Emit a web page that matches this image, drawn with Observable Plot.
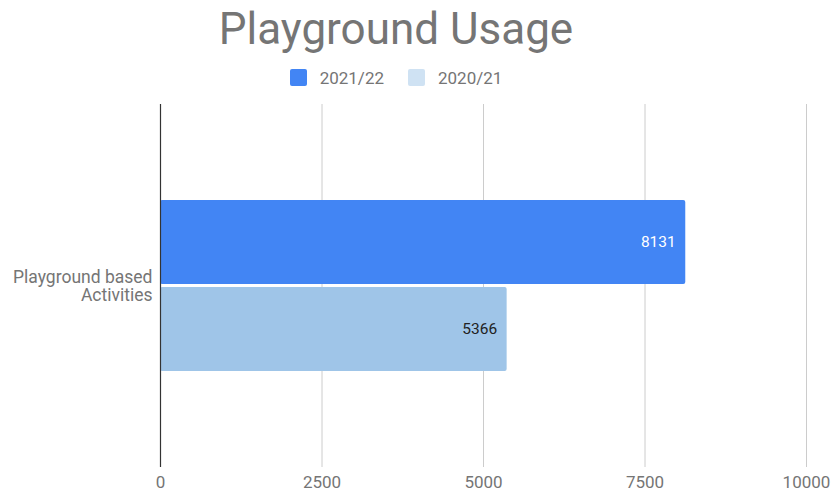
<!DOCTYPE html>
<html>
<head>
<meta charset="utf-8">
<script src="https://cdn.jsdelivr.net/npm/d3@7"></script>
<script src="https://cdn.jsdelivr.net/npm/@observablehq/plot@0.6"></script>
<style>
  html, body { margin: 0; padding: 0; background: #fff; }
  body { width: 834px; height: 495px; overflow: hidden; font-family: Roboto, sans-serif; }
  #title { height: 60px; text-align: center; font-size: 44px; color: #757575; line-height: 58px; padding-right: 42px; }
  #legend { height: 35px; display: flex; justify-content: center; align-items: center; font-size: 17px; color: #757575; padding-right: 42px; }
  .item { display: flex; align-items: center; margin: 0 12px; }
  .sw { width: 17px; height: 17px; border-radius: 2px; margin-right: 13px; }
</style>
</head>
<body>
<div id="title">Playground Usage</div>
<div id="legend"></div>
<div id="chart"></div>
<script>
const categories = ["Playground based Activities"];
const series = ["2021/22", "2020/21"];
const values2122 = [8131];
const values2021 = [5366];
const xTicks = [0, 2500, 5000, 7500, 10000];
const barColors = ["#4285f4", "#9fc5e8"];
const legendColors = ["#4285f4", "#cfe2f3"];
const labelColors = ["#ffffff", "#222222"];

const data = [];
categories.forEach((c, i) => {
  data.push({category: c, series: series[0], value: values2122[i]});
  data.push({category: c, series: series[1], value: values2021[i]});
});

const legend = document.getElementById("legend");
series.forEach((s, i) => {
  const it = document.createElement("div");
  it.className = "item";
  it.innerHTML = `<div class="sw" style="background:${legendColors[i]}"></div><span>${s}</span>`;
  legend.appendChild(it);
});

const chart = Plot.plot({
  width: 834,
  height: 400,
  marginTop: 9,
  marginBottom: 28,
  marginLeft: 160,
  marginRight: 28,
  style: {fontFamily: "Roboto, sans-serif", fontSize: "17px", color: "#757575", background: "#fff"},
  x: {domain: [0, 10000], ticks: xTicks, tickFormat: d => String(d), label: null},
  y: {domain: series, paddingInner: 0.03, paddingOuter: 1.1, axis: null},
  fy: {domain: categories, padding: 0, label: null},
  color: {domain: series, range: barColors},
  marks: [
    Plot.gridX(xTicks.filter(d => d !== 0), {stroke: "#cccccc", strokeOpacity: 1, strokeWidth: 1}),
    Plot.axisX({ticks: xTicks, tickSize: 0, tickPadding: 8, fill: "#757575", tickFormat: d => String(d), label: null}),
    Plot.axisFy({anchor: "left", tickSize: 0, tickPadding: 8, fill: "#757575", label: null, lineHeight: 1.05, fontSize: 17.5,
      tickFormat: d => { const w = d.split(" "); return w.slice(0, 2).join(" ") + "\n" + w.slice(2).join(" "); }}),
    Plot.barX(data, {x: "value", y: "series", fy: "category", fill: "series", rx: 2}),
    Plot.ruleX([0], {stroke: "#333333", strokeWidth: 1.2}),
    Plot.text(data, {x: "value", y: "series", fy: "category", text: d => String(d.value), textAnchor: "end", dx: -10,
      fill: d => labelColors[series.indexOf(d.series)], fontSize: 15.5})
  ]
});
document.getElementById("chart").appendChild(chart);
</script>
</body>
</html>
